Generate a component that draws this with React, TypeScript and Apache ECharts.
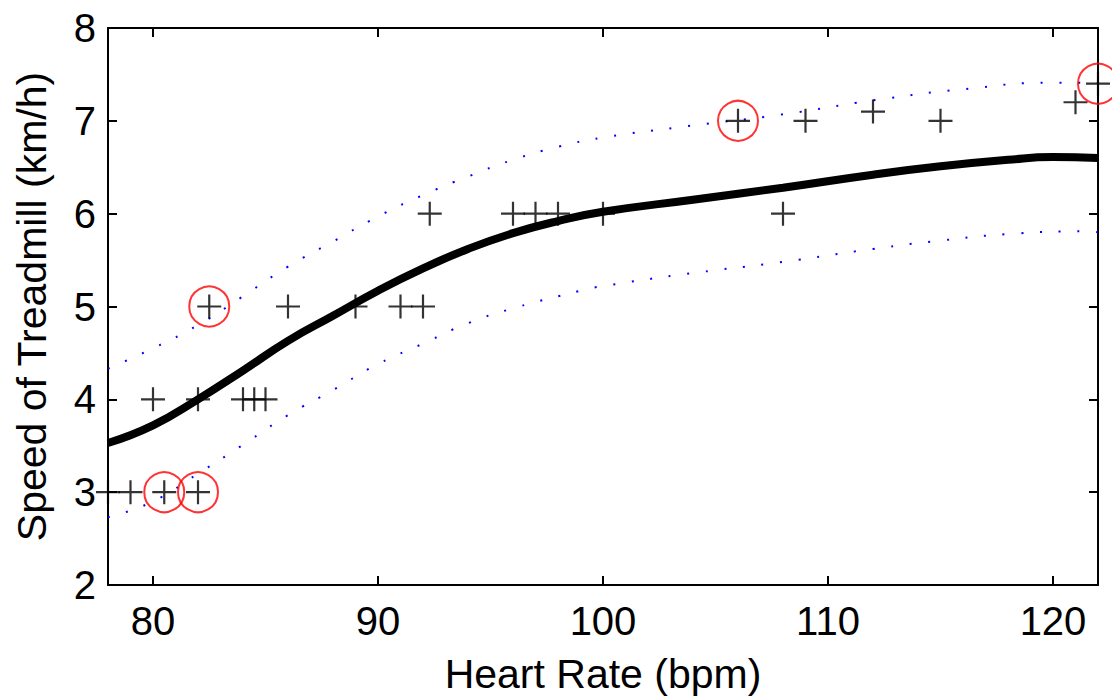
import React, { useEffect, useRef } from "react";
import * as echarts from "echarts";

// Observed data (Heart Rate, Speed)
const obsX = [78, 79, 80.5, 82, 80, 82, 84, 84.5, 85, 82.5, 86, 89, 91, 92, 92.3, 96, 97, 98, 100, 108, 106, 109, 112, 115, 121, 122];
const obsY = [3, 3, 3, 3, 4, 4, 4, 4, 4, 5, 5, 5, 5, 5, 6, 6, 6, 6, 6, 6, 7, 7, 7.1, 7, 7.2, 7.4];

// Highlighted (circled) observations
const outX = [80.5, 82, 82.5, 106, 122];
const outY = [3, 3, 5, 7, 7.4];

// Fitted curve
const fitX = [78, 80, 82, 84, 86, 88, 90, 92, 94, 96, 98, 100, 104, 108, 112, 115, 118, 120, 122];
const fitY = [3.53, 3.72, 4.0, 4.31, 4.63, 4.9, 5.17, 5.41, 5.62, 5.79, 5.92, 6.02, 6.15, 6.28, 6.42, 6.51, 6.58, 6.61, 6.6];

// Upper and lower bounds
const upX = [78, 80, 82, 84, 86, 88, 90, 92, 94, 96, 98, 100, 104, 108, 112, 116, 120, 122];
const upY = [4.33, 4.55, 4.8, 5.11, 5.43, 5.7, 5.97, 6.2, 6.4, 6.58, 6.72, 6.82, 6.95, 7.07, 7.22, 7.34, 7.41, 7.41];
const loX = [78, 80, 82, 84, 86, 88, 90, 92, 94, 96, 99, 100, 104, 108, 112, 115, 118, 121.4, 122];
const loY = [2.73, 2.9, 3.2, 3.51, 3.83, 4.1, 4.38, 4.6, 4.82, 4.98, 5.17, 5.22, 5.36, 5.48, 5.62, 5.71, 5.78, 5.81, 5.8];

const xTicks = [80, 90, 100, 110, 120];
const xLabel = "Heart Rate (bpm)";
const yLabel = "Speed of Treadmill (km/h)";

const zip = (xs: number[], ys: number[]) => xs.map((x, i) => [x, ys[i]]);

export default function App() {
  const ref = useRef<HTMLDivElement>(null);
  useEffect(() => {
    if (!ref.current) return;
    const chart = echarts.init(ref.current, null, { renderer: "svg" });
    const font = "'Liberation Sans', Arial, Helvetica, sans-serif";
    const axisLine = { show: true, onZero: false, lineStyle: { color: "#000", width: 2 } };
    const tick = { show: true, inside: true, length: 9, lineStyle: { color: "#000", width: 2 } };
    chart.setOption({
      animation: false,
      backgroundColor: "#fff",
      grid: { left: 108, right: 14, top: 28, bottom: 115, containLabel: false },
      xAxis: [
        {
          type: "value", min: 78, max: 122, position: "bottom",
          axisLine, splitLine: { show: false },
          axisTick: { ...tick, customValues: xTicks },
          axisLabel: { customValues: xTicks, color: "#000", fontSize: 40, fontFamily: font, margin: 16 },
          name: xLabel, nameLocation: "middle", nameGap: 68,
          nameTextStyle: { color: "#000", fontSize: 41, fontFamily: font },
        },
        {
          type: "value", min: 78, max: 122, position: "top",
          axisLine, splitLine: { show: false },
          axisTick: { ...tick, customValues: xTicks },
          axisLabel: { show: false, customValues: xTicks },
        },
      ],
      yAxis: [
        {
          type: "value", min: 2, max: 8, interval: 1, position: "left",
          axisLine, splitLine: { show: false }, axisTick: tick,
          axisLabel: { color: "#000", fontSize: 40, fontFamily: font, margin: 12 },
          name: yLabel, nameLocation: "middle", nameGap: 56, nameRotate: 90,
          nameTextStyle: { color: "#000", fontSize: 41, fontFamily: font },
        },
        {
          type: "value", min: 2, max: 8, interval: 1, position: "right",
          axisLine, splitLine: { show: false }, axisTick: tick,
          axisLabel: { show: false },
        },
      ],
      series: [
        {
          type: "line", data: zip(upX, upY), smooth: true, showSymbol: false, symbol: "none",
          lineStyle: { color: "#0000ff", width: 2, type: [2, 16.7] }, z: 1,
        },
        {
          type: "line", data: zip(loX, loY), smooth: true, showSymbol: false, symbol: "none",
          lineStyle: { color: "#0000ff", width: 2, type: [2, 16.7] }, z: 1,
        },
        {
          type: "line", data: zip(fitX, fitY), smooth: true, showSymbol: false, symbol: "none",
          lineStyle: { color: "#000", width: 8 }, z: 2,
        },
        {
          type: "scatter", data: zip(obsX, obsY), clip: false,
          symbol: "path://M-12,0 L12,0 M0,-12 L0,12", symbolSize: 24, symbolKeepAspect: true,
          itemStyle: { color: "none", borderColor: "#000", borderWidth: 2.2 }, z: 3,
        },
        {
          type: "scatter", data: zip(outX, outY), clip: false,
          symbol: "circle", symbolSize: 40,
          itemStyle: { color: "none", borderColor: "#ff0000", borderWidth: 2 }, z: 4,
        },
      ],
    });
    return () => chart.dispose();
  }, []);
  return <div ref={ref} style={{ position: "absolute", left: 0, top: 0, width: 1112, height: 700 }} />;
}
